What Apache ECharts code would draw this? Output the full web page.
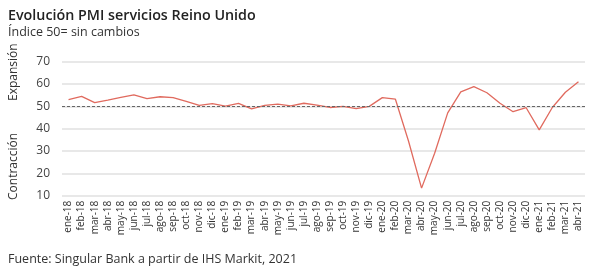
<!DOCTYPE html>
<html><head><meta charset="utf-8">
<script src="https://cdn.jsdelivr.net/npm/echarts@6/dist/echarts.min.js"></script>
<style>html,body{margin:0;padding:0;background:#fff}#c{width:600px;height:269px}</style>
</head><body><div id="c"></div>
<script>
const categories = ['ene-18','feb-18','mar-18','abr-18','may-18','jun-18','jul-18','ago-18','sep-18','oct-18','nov-18','dic-18',
'ene-19','feb-19','mar-19','abr-19','may-19','jun-19','jul-19','ago-19','sep-19','oct-19','nov-19','dic-19',
'ene-20','feb-20','mar-20','abr-20','may-20','jun-20','jul-20','ago-20','sep-20','oct-20','nov-20','dic-20',
'ene-21','feb-21','mar-21','abr-21'];
const pmiServicios = [53.0,54.5,51.7,52.8,54.0,55.1,53.5,54.3,53.9,52.2,50.4,51.2,
50.1,51.3,48.9,50.4,51.0,50.2,51.4,50.6,49.5,50.0,49.0,50.0,
53.9,53.2,34.5,13.4,29.0,47.1,56.5,58.8,56.1,51.4,47.6,49.4,
39.5,49.5,56.3,61.0];
const yTicks = [10,20,30,40,50,60,70];
const threshold = 50;
const font = '"Open Sans"';
const chart = echarts.init(document.getElementById('c'));
chart.setOption({
  animation:false,
  textStyle:{fontFamily:font},
  title:[
    {text:'Evolución PMI servicios Reino Unido',left:3,top:4,textStyle:{fontFamily:font,fontSize:14.3,fontWeight:600,color:'#222'}},
    {text:'Índice 50= sin cambios',left:3,top:21,textStyle:{fontFamily:font,fontSize:12.5,fontWeight:'normal',color:'#333'}},
    {text:'Fuente: Singular Bank a partir de IHS Markit, 2021',left:3,top:248,textStyle:{fontFamily:font,fontSize:12.5,fontWeight:'normal',color:'#333'}}
  ],
  graphic:[
    {type:'text',x:14,y:101,rotation:Math.PI/2,style:{text:'Expansión',font:'12px "Open Sans"',fill:'#333',textAlign:'left',textVerticalAlign:'middle'}},
    {type:'text',x:14,y:200,rotation:Math.PI/2,style:{text:'Contracción',font:'12px "Open Sans"',fill:'#333',textAlign:'left',textVerticalAlign:'middle'}}
  ],
  grid:{left:62,right:15,top:61.7,bottom:73.3},
  xAxis:{type:'category',data:categories,boundaryGap:true,
    axisLine:{show:false},axisTick:{show:false},
    axisLabel:{rotate:90,interval:0,fontSize:10,color:'#333',margin:5,fontFamily:font}},
  yAxis:{type:'value',min:10,max:70,interval:10,
    axisLabel:{color:'#444',fontSize:12,margin:12,fontFamily:font,
      formatter:v=>yTicks.includes(v)?String(v):''},
    splitLine:{lineStyle:{color:'#e0e0e0',width:1.5}}
  },
  series:[{type:'line',data:pmiServicios,symbol:'none',
    lineStyle:{color:'#e06a5e',width:1.3},
    markLine:{silent:true,symbol:'none',label:{show:false},
      lineStyle:{color:'#666',type:[3,2],width:1},
      data:[{yAxis:threshold}]}}]
});
</script></body></html>
